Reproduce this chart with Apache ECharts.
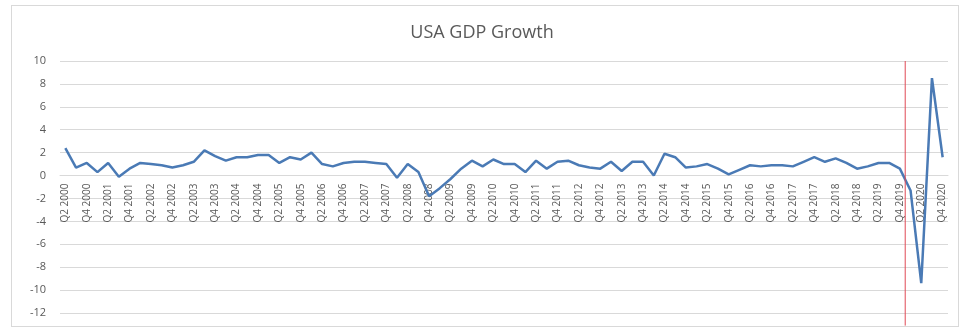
<!DOCTYPE html>
<html>
<head>
<meta charset="utf-8">
<script src="https://cdn.jsdelivr.net/npm/echarts@6/dist/echarts.min.js"></script>
<style>
  html, body { margin: 0; padding: 0; background: #fff; }
  .frame {
    position: absolute;
    left: 11px;
    top: 5px;
    width: 948px;
    height: 322px;
    border: 1px solid #d9d9d9;
    box-sizing: border-box;
  }
  #chart { position: absolute; left: 0; top: 0; width: 964px; height: 331px; }
</style>
</head>
<body>
<div class="frame"></div>
<div id="chart"></div>
<script>
const quarters = [
  'Q2 2000', 'Q3 2000', 'Q4 2000',
  'Q1 2001', 'Q2 2001', 'Q3 2001', 'Q4 2001',
  'Q1 2002', 'Q2 2002', 'Q3 2002', 'Q4 2002',
  'Q1 2003', 'Q2 2003', 'Q3 2003', 'Q4 2003',
  'Q1 2004', 'Q2 2004', 'Q3 2004', 'Q4 2004',
  'Q1 2005', 'Q2 2005', 'Q3 2005', 'Q4 2005',
  'Q1 2006', 'Q2 2006', 'Q3 2006', 'Q4 2006',
  'Q1 2007', 'Q2 2007', 'Q3 2007', 'Q4 2007',
  'Q1 2008', 'Q2 2008', 'Q3 2008', 'Q4 2008',
  'Q1 2009', 'Q2 2009', 'Q3 2009', 'Q4 2009',
  'Q1 2010', 'Q2 2010', 'Q3 2010', 'Q4 2010',
  'Q1 2011', 'Q2 2011', 'Q3 2011', 'Q4 2011',
  'Q1 2012', 'Q2 2012', 'Q3 2012', 'Q4 2012',
  'Q1 2013', 'Q2 2013', 'Q3 2013', 'Q4 2013',
  'Q1 2014', 'Q2 2014', 'Q3 2014', 'Q4 2014',
  'Q1 2015', 'Q2 2015', 'Q3 2015', 'Q4 2015',
  'Q1 2016', 'Q2 2016', 'Q3 2016', 'Q4 2016',
  'Q1 2017', 'Q2 2017', 'Q3 2017', 'Q4 2017',
  'Q1 2018', 'Q2 2018', 'Q3 2018', 'Q4 2018',
  'Q1 2019', 'Q2 2019', 'Q3 2019', 'Q4 2019',
  'Q1 2020', 'Q2 2020', 'Q3 2020', 'Q4 2020'
]

const gdpGrowth = [
  2.4, 0.7, 1.1, 0.3, 1.1, -0.1, 0.6, 1.1, 1.0, 0.9, 0.7, 0.9,
  1.2, 2.2, 1.7, 1.3, 1.6, 1.6, 1.8, 1.8, 1.1, 1.6, 1.4, 2.0,
  1.0, 0.8, 1.1, 1.2, 1.2, 1.1, 1.0, -0.2, 1.0, 0.3, -1.8, -1.1,
  -0.3, 0.6, 1.3, 0.8, 1.4, 1.0, 1.0, 0.3, 1.3, 0.6, 1.2, 1.3,
  0.9, 0.7, 0.6, 1.2, 0.4, 1.2, 1.2, 0.0, 1.9, 1.6, 0.7, 0.8,
  1.0, 0.6, 0.1, 0.5, 0.9, 0.8, 0.9, 0.9, 0.8, 1.2, 1.6, 1.2,
  1.5, 1.1, 0.6, 0.8, 1.1, 1.1, 0.6, -1.3, -9.4, 8.5, 1.6
]

const yTicks = { min: -12, max: 10, step: 2 }

// covid marker sits between Q4 2019 and Q1 2020
const markerPosition = 78.5
const markerSpan = [10, -13.1]

const gridBox = { left: 60, right: 16, top: 61, bottom: 18, outerBoundsMode: 'none' }

const chart = echarts.init(document.getElementById('chart'))

chart.setOption({
  animation: false,
  backgroundColor: 'transparent',
  title: {
    text: 'USA GDP Growth',
    left: 'center',
    top: 19,
    textStyle: {
      color: '#595959',
      fontFamily: 'Open Sans',
      fontWeight: 'normal',
      fontSize: 18
    }
  },
  grid: [gridBox, { ...gridBox }],
  xAxis: [
    {
      type: 'category',
      gridIndex: 0,
      data: quarters,
      boundaryGap: true,
      axisLine: { show: true, onZero: false, lineStyle: { color: '#d9d9d9' } },
      axisTick: { show: false },
      axisLabel: {
        interval: 1,
        rotate: 90,
        margin: 8,
        color: '#595959',
        fontFamily: 'Open Sans',
        fontSize: 10
      }
    },
    {
      type: 'value',
      gridIndex: 1,
      show: false,
      min: -0.5,
      max: quarters.length - 0.5
    }
  ],
  yAxis: [
    {
      type: 'value',
      gridIndex: 0,
      min: yTicks.min,
      max: yTicks.max,
      interval: yTicks.step,
      axisLine: { show: false },
      axisTick: { show: false },
      axisLabel: {
        color: '#595959',
        fontFamily: 'Open Sans',
        fontSize: 11,
        margin: 14
      },
      splitLine: { lineStyle: { color: '#d9d9d9', width: 1 } }
    },
    {
      type: 'value',
      gridIndex: 1,
      show: false,
      min: yTicks.min,
      max: yTicks.max
    }
  ],
  series: [
    {
      type: 'line',
      data: gdpGrowth,
      showSymbol: false,
      lineStyle: { color: '#4a7ab5', width: 2.5 },
      itemStyle: { color: '#4a7ab5' }
    },
    {
      type: 'line',
      xAxisIndex: 1,
      yAxisIndex: 1,
      clip: false,
      showSymbol: false,
      silent: true,
      data: markerSpan.map((v) => [markerPosition, v]),
      lineStyle: { color: '#e04a55', width: 1 }
    }
  ]
})

// lift the category axis up to the zero line, like Excel does
const zeroY = chart.convertToPixel({ yAxisIndex: 0 }, 0)
const bottomY = chart.convertToPixel({ yAxisIndex: 0 }, yTicks.min)
chart.setOption({
  xAxis: [{ offset: -(bottomY - zeroY) }, {}]
})
</script>
</body>
</html>
